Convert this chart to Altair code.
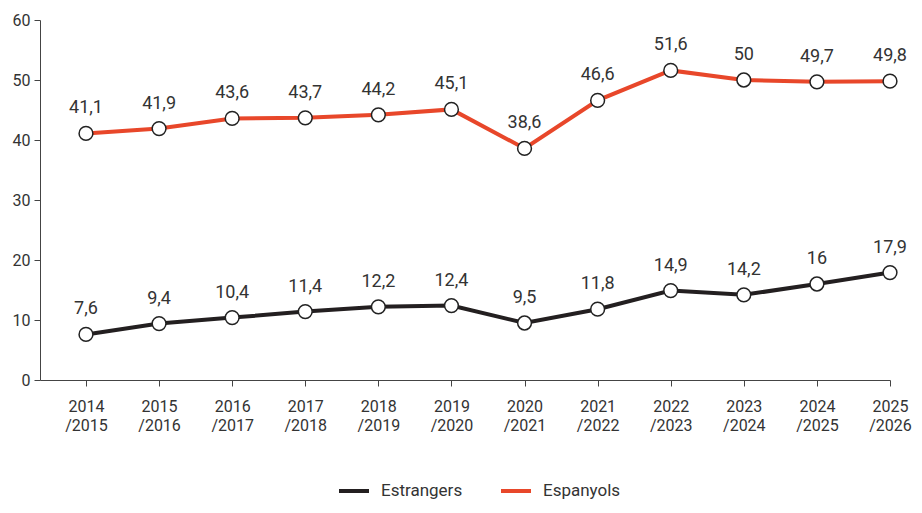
import altair as alt
import pandas as pd

cursos = ["2014/2015", "2015/2016", "2016/2017", "2017/2018", "2018/2019", "2019/2020",
          "2020/2021", "2021/2022", "2022/2023", "2023/2024", "2024/2025", "2025/2026"]
espanyols = [41.1, 41.9, 43.6, 43.7, 44.2, 45.1, 38.6, 46.6, 51.6, 50, 49.7, 49.8]
estrangers = [7.6, 9.4, 10.4, 11.4, 12.2, 12.4, 9.5, 11.8, 14.9, 14.2, 16, 17.9]
series = ["Estrangers", "Espanyols"]
colors = ["#231F20", "#E8472A"]

rows = []
for name, vals in (("Estrangers", estrangers), ("Espanyols", espanyols)):
    for i, (c, v) in enumerate(zip(cursos, vals)):
        lab = (f"{v:g}").replace(".", ",")
        rows.append({"idx": i, "curs": c, "serie": name, "valor": v, "label": lab})
df = pd.DataFrame(rows)

label_arr = "[" + ",".join(f"['{c[:4]}','{c[4:]}']" for c in cursos) + "]"

FONT = "Roboto"

x = alt.X("idx:Q",
          scale=alt.Scale(domain=[-0.629, 11], nice=False, zero=False),
          axis=alt.Axis(values=list(range(12)), labelExpr=f"{label_arr}[datum.value]",
                        title=None, grid=False, tickSize=6, labelPadding=12,
                        labelFontSize=16, labelColor="#333", labelLineHeight=19,
                        labelFlush=False, labelOverlap=False,
                        domainColor="#444", tickColor="#444", labelFont=FONT))
y = alt.Y("valor:Q",
          scale=alt.Scale(domain=[0, 60], nice=False),
          axis=alt.Axis(values=[0, 10, 20, 30, 40, 50, 60], title=None, grid=False,
                        tickSize=6, labelFontSize=16, labelColor="#333",
                        domainColor="#444", tickColor="#444", labelFont=FONT,
                        labelPadding=4))
color = alt.Color("serie:N", scale=alt.Scale(domain=series, range=colors),
                  legend=alt.Legend(title=None, orient="none", direction="horizontal",
                                    legendX=297, legendY=454,
                                    symbolType="stroke", symbolStrokeWidth=4,
                                    symbolSize=900, labelFontSize=17, labelFont=FONT,
                                    labelColor="#333", columnPadding=30, labelOffset=10))

base = alt.Chart(df)
lines = base.mark_line(strokeWidth=4).encode(x=x, y=y, color=color, detail="serie:N")
points = base.mark_point(filled=True, fill="white", stroke="#222", strokeWidth=1.5,
                         size=190, opacity=1).encode(x=x, y=y, detail="serie:N")
texts = base.mark_text(dy=-25, fontSize=18, font=FONT, color="#333").encode(
    x=x, y=y, text="label:N")

chart = (lines + points + texts).properties(
    width=850, height=360,
    padding={"left": 32, "top": 12, "right": 24, "bottom": 125},
    autosize=alt.AutoSizeParams(type="none"),
).configure_view(stroke=None)

chart.save("out.html", embed_options={"renderer": "svg", "actions": False})
